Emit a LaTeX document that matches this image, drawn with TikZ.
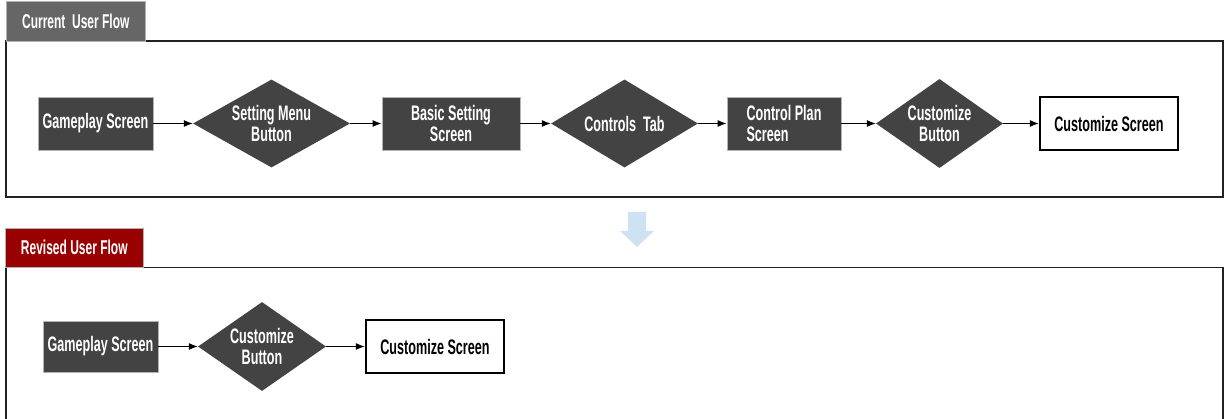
\documentclass[tikz,border=0pt]{standalone}
\usepackage{fontspec}
\setmainfont[FakeStretch=0.6]{Liberation Sans}
\usetikzlibrary{shapes.geometric,arrows.meta}
\definecolor{boxgray}{HTML}{434343}
\definecolor{tabgray}{HTML}{666666}
\definecolor{tabred}{HTML}{990000}
\definecolor{arrowblue}{HTML}{CFE2F3}
\definecolor{framecol}{HTML}{222222}
\tikzset{
  lblfont/.style={font=\bfseries\fontsize{21}{20.5}\selectfont},
  darkbox/.style={rectangle, fill=boxgray, draw=gray!60, line width=0.8pt,
    text=white, lblfont, inner sep=0pt},
  darkdia/.style={diamond, fill=boxgray, draw=none, text=white,
    lblfont, inner sep=0pt, aspect=1.75, align=center},
  whitebox/.style={rectangle, fill=white, draw=black, line width=2.4pt,
    text=black, lblfont, inner sep=0pt},
  tabbox/.style={rectangle, draw=gray!60, line width=0.6pt, text=white,
    font=\bfseries\fontsize{20}{20}\selectfont, inner sep=0pt, anchor=north west},
  frameline/.style={draw=framecol, line width=1.3pt},
  flow/.style={draw=black, line width=1.1pt, -{Latex[length=9pt,width=7pt]}},
}
\begin{document}
\begin{tikzpicture}[x=1pt,y=-1pt]
\useasboundingbox (0,0) rectangle (1227,419);
% frames
\draw[frameline] (6,41) rectangle (1223,197);
\draw[frameline] (6,425) -- (6,267.5) -- (1223,267.5) -- (1223,425);
% tabs
\node[tabbox, fill=tabgray, minimum width=139pt, minimum height=40pt] (tab1) at (6,1) {Current\ \ User Flow};
\node[tabbox, fill=tabred, minimum width=138pt, minimum height=39pt] (tab2) at (5,228) {Revised User Flow};
% big down arrow
\fill[arrowblue] (628,212) -- (646,212) -- (646,231) -- (654,231) -- (637,247) -- (620,231) -- (628,231) -- cycle;
% top row
\node[darkbox, minimum width=115pt, minimum height=53pt] (g1) at (95.5,123.5) {Gameplay Screen};
\node[darkdia, minimum width=157pt, minimum height=88pt] (d1) at (271.5,123.5) {Setting Menu\\Button};
\node[darkbox, minimum width=138pt, minimum height=53pt, align=center] (b1) at (451,123.5) {Basic Setting\\Screen};
\node[darkdia, minimum width=147pt, minimum height=88pt] (d2) at (624.5,123.5) {Controls\ \ Tab};
\node[darkbox, minimum width=114pt, minimum height=53pt, align=left] (c1) at (784,123.5) {Control Plan\\Screen};
\node[darkdia, minimum width=127pt, minimum height=89pt] (d3) at (939.5,123.5) {Customize\\Button};
\node[whitebox, minimum width=138pt, minimum height=53pt] (s1) at (1109,123.5) {Customize Screen};
\draw[flow] (g1.east) -- (d1.west);
\draw[flow] (d1.east) -- (b1.west);
\draw[flow] (b1.east) -- (d2.west);
\draw[flow] (d2.east) -- (c1.west);
\draw[flow] (c1.east) -- (d3.west);
\draw[flow] (d3.east) -- (s1.west);
% bottom row
\node[darkbox, minimum width=115pt, minimum height=51pt] (g2) at (100.5,346.5) {Gameplay Screen};
\node[darkdia, minimum width=128pt, minimum height=89pt] (d4) at (262,346.5) {Customize\\Button};
\node[whitebox, minimum width=138pt, minimum height=53pt] (s2) at (435,346.5) {Customize Screen};
\draw[flow] (g2.east) -- (d4.west);
\draw[flow] (d4.east) -- (s2.west);
\end{tikzpicture}
\end{document}
